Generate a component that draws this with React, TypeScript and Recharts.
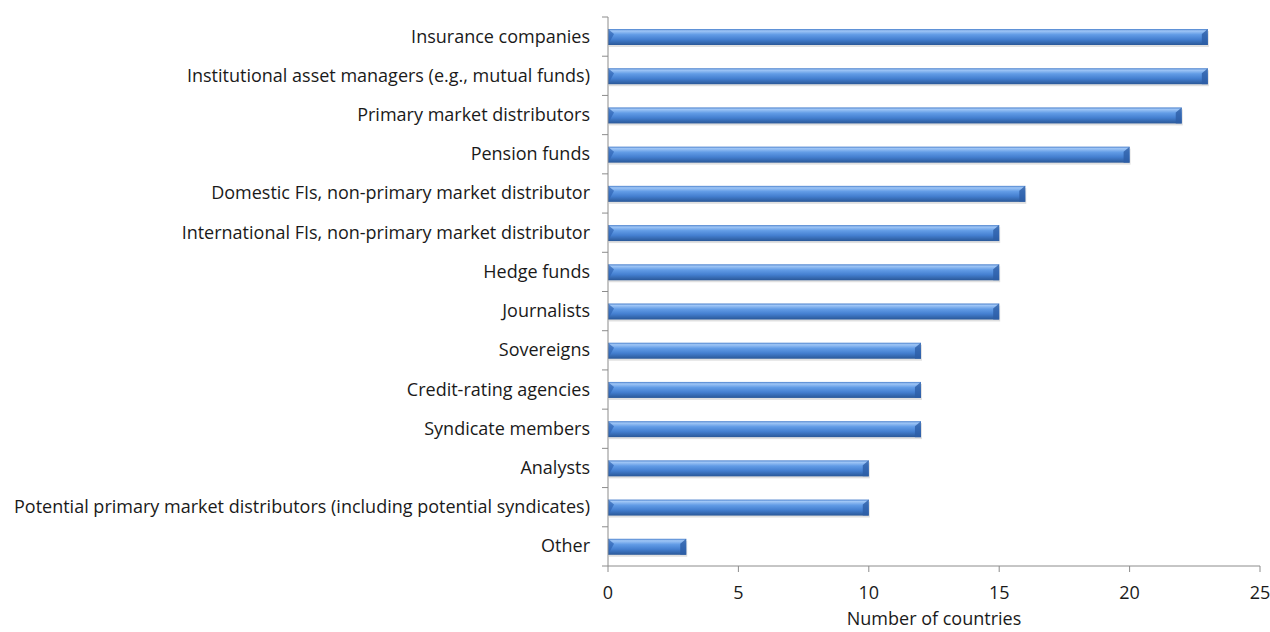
import { BarChart, Bar, XAxis, YAxis } from 'recharts';

const categories = [
  'Insurance companies',
  'Institutional asset managers (e.g., mutual funds)',
  'Primary market distributors',
  'Pension funds',
  'Domestic FIs, non-primary market distributor',
  'International FIs, non-primary market distributor',
  'Hedge funds',
  'Journalists',
  'Sovereigns',
  'Credit-rating agencies',
  'Syndicate members',
  'Analysts',
  'Potential primary market distributors (including potential syndicates)',
  'Other',
];
const countries = [23, 23, 22, 20, 16, 15, 15, 15, 12, 12, 12, 10, 10, 3];
const xTicks = [0, 5, 10, 15, 20, 25];

const data = categories.map((name, i) => ({ name, value: countries[i] }));

const W = 1270;
const H = 632;
const AXIS_H = 40;
const M = { top: 17, right: 10, bottom: 66 - AXIS_H, left: 0 };
const band = (H - M.top - 66) / categories.length;
const font = 'Open Sans, sans-serif';
const fs = 18;

const CatTick = (props: any) => {
  const { x, y, payload, index } = props;
  return (
    <g>
      {index === 0 && <line x1={x + 2} x2={x + 8} y1={y - band / 2} y2={y - band / 2} stroke="#8c8c8c" />}
      <line x1={x + 2} x2={x + 8} y1={y + band / 2} y2={y + band / 2} stroke="#8c8c8c" />
      <text x={x - 10} y={y} dy={6} textAnchor="end" fontSize={fs} fontFamily={font} fill="#1a1a1a">
        {payload.value}
      </text>
    </g>
  );
};

// cylinder-ish bar like the Excel 3D style
const Tube = (props: any) => {
  const { x, y, width, height } = props;
  if (!width) return null;
  return (
    <g>
      <rect x={x + 1} y={y + 2} width={width} height={height} fill="#000" opacity={0.12} />
      <rect x={x} y={y} width={width} height={height} fill="url(#tubeGrad)" />
      <polygon points={`${x},${y} ${x + 6},${y + 5} ${x},${y + height}`} fill="#2f64b4" opacity={0.7} />
      <polygon
        points={`${x + width - 6},${y + 5} ${x + width},${y} ${x + width},${y + height} ${x + width - 6},${y + height}`}
        fill="#2d5ea6"
        opacity={0.8}
      />
    </g>
  );
};

export default function App() {
  return (
    <div style={{ position: 'absolute', left: 0, top: 0, background: '#fff' }}>
      <BarChart width={W} height={H} data={data} layout="vertical" margin={M} barSize={16}>
        <defs>
          <linearGradient id="tubeGrad" x1="0" y1="0" x2="0" y2="1">
            <stop offset="0%" stopColor="#4a80cc" />
            <stop offset="12%" stopColor="#9fc6f6" />
            <stop offset="35%" stopColor="#629ce6" />
            <stop offset="65%" stopColor="#447fd0" />
            <stop offset="100%" stopColor="#2a5898" />
          </linearGradient>
        </defs>
        <XAxis
          type="number"
          domain={[0, 25]}
          ticks={xTicks}
          height={AXIS_H}
          stroke="#8c8c8c"
          tickSize={6}
          tick={{ fill: '#1a1a1a', fontSize: fs, fontFamily: font, dy: 12 }}
          label={{ value: 'Number of countries', position: 'insideBottom', offset: -19, fill: '#1a1a1a', fontSize: fs, fontFamily: font }}
        />
        <YAxis
          type="category"
          dataKey="name"
          width={608}
          stroke="#8c8c8c"
          tickLine={false}
          tick={<CatTick />}
          interval={0}
        />
        <Bar dataKey="value" shape={<Tube />} isAnimationActive={false} />
      </BarChart>
    </div>
  );
}
